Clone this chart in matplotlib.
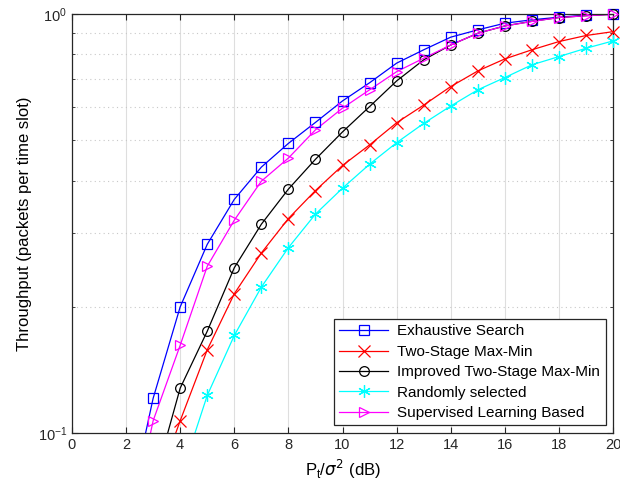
import matplotlib
matplotlib.use("Agg")
import matplotlib.pyplot as plt
from matplotlib.lines import Line2D
from matplotlib.ticker import LogLocator, NullFormatter

plt.rcParams["font.family"] = ["Liberation Sans", "DejaVu Sans"]
plt.rcParams["mathtext.fontset"] = "dejavusans"

snr_db = [2, 3, 4, 5, 6, 7, 8, 9, 10, 11, 12, 13, 14, 15, 16, 17, 18, 19, 20]

exhaustive = [0.061, 0.121, 0.200, 0.282, 0.361, 0.431, 0.491, 0.551, 0.620, 0.685,
              0.763, 0.821, 0.880, 0.916, 0.950, 0.968, 0.982, 0.993, 0.999]
two_stage = [0.050, 0.071, 0.107, 0.158, 0.215, 0.269, 0.325, 0.379, 0.435, 0.487,
             0.550, 0.606, 0.671, 0.731, 0.781, 0.821, 0.859, 0.888, 0.907]
improved = [0.050, 0.075, 0.128, 0.175, 0.248, 0.315, 0.382, 0.450, 0.523, 0.601,
            0.692, 0.777, 0.843, 0.899, 0.936, 0.960, 0.980, 0.990, 0.998]
random_sel = [0.040, 0.060, 0.078, 0.123, 0.171, 0.223, 0.277, 0.333, 0.384, 0.438,
              0.493, 0.548, 0.603, 0.659, 0.705, 0.756, 0.791, 0.828, 0.862]
supervised = [0.053, 0.107, 0.162, 0.250, 0.322, 0.399, 0.453, 0.529, 0.596, 0.659,
              0.728, 0.784, 0.843, 0.899, 0.936, 0.959, 0.980, 0.990, 0.997]

asterisk = (6, 2, 0)
series = [
    ("Exhaustive Search", exhaustive, "#0000ff", "s", 6.5),
    ("Two-Stage Max-Min", two_stage, "#ff0000", "x", 8),
    ("Improved Two-Stage Max-Min", improved, "#000000", "o", 7),
    ("Randomly selected", random_sel, "#00ffff", asterisk, 9),
    ("Supervised Learning Based", supervised, "#ff00ff", ">", 7),
]

fig = plt.figure(figsize=(6.2, 4.95), dpi=100)
ax = fig.add_axes([0.116, 0.125, 0.873, 0.847])

handles = []
for label, ys, color, marker, ms in series:
    ax.plot(snr_db, ys, color=color, linewidth=0.9)
    # markers are not clipped at the top border (as in the original figure)
    vis = [(x, y) for x, y in zip(snr_db, ys) if y >= 0.1]
    ax.plot([p[0] for p in vis], [p[1] for p in vis], linestyle="none",
            marker=marker, markersize=ms, markerfacecolor="none",
            markeredgecolor=color, markeredgewidth=0.9, clip_on=False, zorder=3)
    handles.append(Line2D([], [], color=color, linewidth=0.9, marker=marker,
                          markersize=ms, markerfacecolor="none",
                          markeredgecolor=color, markeredgewidth=0.9, label=label))

ax.set_yscale("log")
ax.set_xlim(0, 20)
ax.set_ylim(0.1, 1)
ax.set_xticks(range(0, 21, 2))
ax.yaxis.set_major_locator(LogLocator(base=10, numticks=5))
ax.yaxis.set_minor_locator(LogLocator(base=10, subs=[0.2, 0.3, 0.4, 0.5, 0.6, 0.7, 0.8, 0.9], numticks=10))
ax.yaxis.set_minor_formatter(NullFormatter())

ax.grid(True, axis="x", which="major", color="#dedede", linewidth=0.8, linestyle="-")
ax.grid(True, axis="y", which="minor", color="#c8c8c8", linewidth=0.8, linestyle=(0, (1, 3)))
ax.set_axisbelow(True)

ax.tick_params(which="both", direction="in", top=True, right=True, labelsize=10.5,
               colors="#262626")
ax.tick_params(which="major", length=4)
ax.tick_params(which="minor", length=2.5)
for sp in ax.spines.values():
    sp.set_color("#262626")
    sp.set_linewidth(0.9)

ax.set_xlabel(r"P$_\mathregular{t}$/$\sigma^2$ (dB)", fontsize=12)
ax.set_ylabel("Throughput (packets per time slot)", fontsize=12)

leg = ax.legend(handles=handles, loc="lower right", fontsize=11, fancybox=False,
                framealpha=1, edgecolor="#262626", borderaxespad=0.5,
                handlelength=3.2, labelspacing=0.42, borderpad=0.35, handletextpad=0.6)
leg.get_frame().set_linewidth(0.9)

fig.savefig("out.png", dpi=100)
